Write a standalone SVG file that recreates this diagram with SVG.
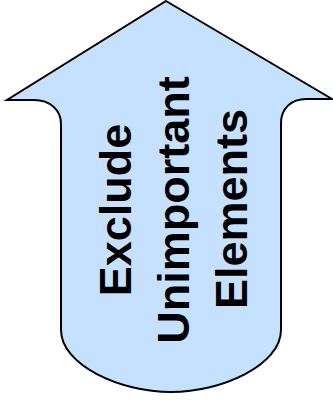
<svg xmlns="http://www.w3.org/2000/svg" width="333" height="405" viewBox="0 0 333 405">
  <style>
    .arrow { fill: #C6E0FF; stroke: #000; stroke-width: 2; stroke-linejoin: miter; }
    .label { font-family: "Liberation Sans", Arial, sans-serif; font-weight: bold; font-size: 45px; fill: #000; text-anchor: middle; }
  </style>
  <rect width="333" height="405" fill="#fff"/>
  <g id="up-arrow">
    <path class="arrow" d="M 166,1 L 332,99 L 306,99 C 292,99 281,108 281,123 L 281,330 C 281,365 222,392 171,392 C 120,392 61,365 61,330 L 61,124 C 61,110 50,100 34,100 L 7,100 Z"/>
    <text class="label" transform="translate(131,210) rotate(-90)">Exclude</text>
    <text class="label" transform="translate(189,210) rotate(-90)">Unimportant</text>
    <text class="label" transform="translate(247,209) rotate(-90)">Elements</text>
  </g>
</svg>
